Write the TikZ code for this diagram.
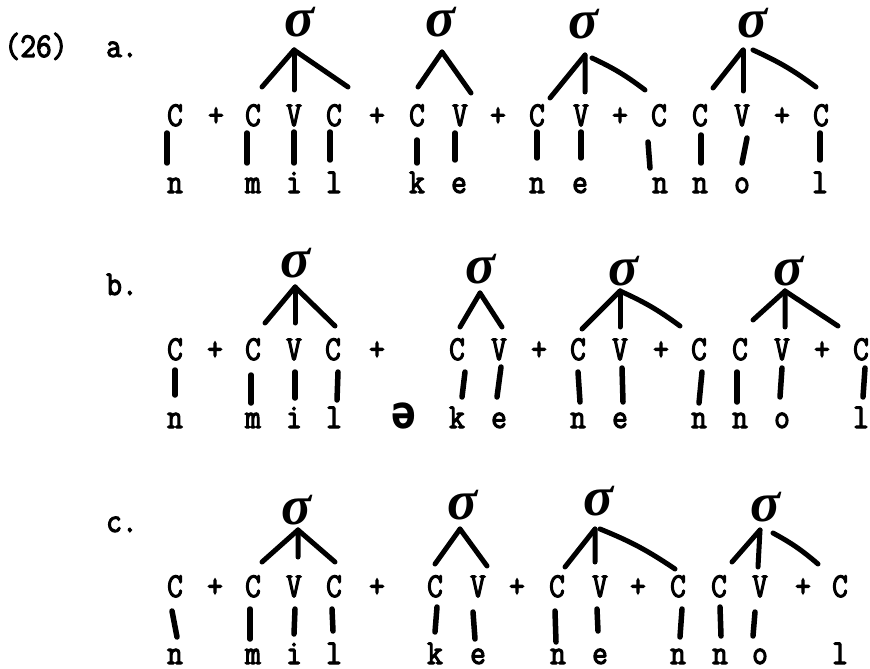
\documentclass[tikz,border=0pt]{standalone}
\usepackage{fontspec}
\setmonofont{Latin Modern Mono}[FakeBold=3, FakeStretch=0.88]
\newfontfamily\schwafont{DejaVu Sans}[FakeStretch=0.8]
\newfontfamily\sgfont{Liberation Serif}
\newcommand\stm[6]{\draw[stemline] ([xshift=#3bp,yshift=#4bp]#1.base) -- ([xshift=#5bp,yshift=#6bp]#2.base);}
\newcommand\brn[4]{\draw[branch] (#1) -- ([xshift=#3bp,yshift=#4bp]#2.base);}
\newcommand\brc[4]{\draw[branch] (#1) to[bend left=6] ([xshift=#3bp,yshift=#4bp]#2.base);}
\begin{document}
\begin{tikzpicture}[x=1bp,y=-1bp,
  lt/.style={font=\fontsize{35}{35}\selectfont\ttfamily, inner sep=0pt, anchor=base},
  sg/.style={font=\fontsize{56}{56}\selectfont\sgfont\bfseries\itshape, inner sep=0pt, anchor=base},
  stemline/.style={line width=5.5bp, line cap=round},
  branch/.style={line width=5bp, line cap=round, line join=round}]
\useasboundingbox (0,0) rectangle (870,669);
% labels
\node[lt] (n26) at (36,57) {(26)};
\node[lt] (la) at (122,57) {a.};
\node[lt] (lb) at (122,295) {b.};
\node[lt] (lc) at (122,532) {c.};
% ---------- row a ----------
\foreach \n/\x/\t in {1/175/C,2/216/+,3/253/C,4/294/V,5/334/C,6/377/+,7/417/C,8/460/V,9/498/+,10/537/C,11/581/V,12/620/+,13/659/C,14/700/C,15/742/V,16/782/+,17/821/C}
  \node[lt] (a\n) at (\x,126) {\t};
\foreach \n/\x/\t in {1/175/n,3/253/m,4/294/i,5/334/l,7/417/k,8/459/e,10/537/n,11/580/e,13/660/n,14/700/n,15/742/o,17/820/l}
  \node[lt] (ab\n) at (\x,193) {\t};
\node[sg] (sa1) at (300,37) {σ};
\node[sg] (sa2) at (441,37) {σ};
\node[sg] (sa3) at (584,39) {σ};
\node[sg] (sa4) at (753,38) {σ};
\coordinate (pa1) at (294,50);
\coordinate (pa2) at (442,52);
\coordinate (pa3) at (585,55);
\coordinate (pa3r) at (592,58);
\coordinate (pa4) at (743,50);
\coordinate (pa4r) at (753,50);
\brn{pa1}{a3}{9}{39}\brn{pa1}{a4}{0}{36}\brn{pa1}{a5}{14}{39}
\brn{pa2}{a7}{1}{39}\brn{pa2}{a8}{11}{33}
\brn{pa3}{a10}{13}{28}\brn{pa3}{a11}{4}{34}\brc{pa3r}{a13}{-14}{36}
\brn{pa4}{a14}{13}{38}\brn{pa4}{a15}{1}{35}\brc{pa4r}{a17}{-5}{39}
\stm{a1}{ab1}{-8}{-7}{-8}{30}
\stm{a3}{ab3}{-6}{-7}{-6}{30}
\stm{a4}{ab4}{0}{-6}{0}{30}
\stm{a5}{ab5}{-4}{-6}{-4}{33}
\stm{a7}{ab7}{0}{-14}{0}{30}
\stm{a8}{ab8}{-5}{-7}{-4}{33}
\stm{a10}{ab10}{0}{-6}{0}{35}
\stm{a11}{ab11}{0}{-6}{1}{35}
\stm{a13}{ab13}{-11}{-16}{-10}{25}
\stm{a14}{ab14}{1}{-9}{1}{30}
\stm{a15}{ab15}{5}{-12}{0}{30}
\stm{a17}{ab17}{-1}{-7}{0}{33}
% ---------- row b ----------
\foreach \n/\x/\t in {1/175/C,2/215/+,3/253/C,4/294/V,5/333/C,6/377/+,7/457/C,8/499/V,9/539/+,10/578/C,11/620/V,12/661/+,13/699/C,14/740/C,15/782/V,16/822/+,17/861/C}
  \node[lt] (b\n) at (\x,360) {\t};
\foreach \n/\x/\t in {1/175/n,3/253/m,4/294/i,5/334/l,7/457/k,8/499/e,10/578/n,11/620/e,13/699/n,14/740/n,15/782/o,17/861/l}
  \node[lt] (bb\n) at (\x,428) {\t};
\node[lt, font=\fontsize{46}{46}\selectfont\schwafont\bfseries] (schwa) at (404,428) {ə};
\node[sg] (sb1) at (296,277) {σ};
\node[sg] (sb2) at (481,283) {σ};
\node[sg] (sb3) at (624,285) {σ};
\node[sg] (sb4) at (789,285) {σ};
\coordinate (pb1) at (295,287);
\coordinate (pb2) at (480,293);
\coordinate (pb3) at (620,291);
\coordinate (pb4) at (785,291);
\brn{pb1}{b3}{12}{37}\brn{pb1}{b4}{1}{37}\brn{pb1}{b5}{2}{34}
\brn{pb2}{b7}{3}{33}\brn{pb2}{b8}{3}{33}
\brn{pb3}{b10}{4}{31}\brn{pb3}{b11}{0}{33}\brc{pb3}{b13}{-19}{34}
\brn{pb4}{b14}{13}{40}\brn{pb4}{b15}{3}{33}\brn{pb4}{b17}{-23}{34}
\stm{b1}{bb1}{0}{-10}{0}{33}
\stm{b3}{bb3}{-2}{-15}{-2}{25}
\stm{b4}{bb4}{1}{-12}{1}{30}
\stm{b5}{bb5}{5}{-12}{3}{28}
\stm{b7}{bb7}{8}{-12}{5}{31}
\stm{b8}{bb8}{2}{-7}{-2}{31}
\stm{b10}{bb10}{0}{-12}{2}{26}
\stm{b11}{bb11}{2}{-8}{3}{26}
\stm{b13}{bb13}{3}{-12}{0}{25}
\stm{b14}{bb14}{-3}{-12}{-3}{26}
\stm{b15}{bb15}{0}{-8}{-2}{31}
\stm{b17}{bb17}{4}{-8}{2}{31}
% ---------- row c ----------
\foreach \n/\x/\t in {1/175/C,2/215/+,3/253/C,4/294/V,5/334/C,6/377/+,7/435/C,8/478/V,9/517/+,10/557/C,11/600/V,12/638/+,13/678/C,14/719/C,15/760/V,16/803/+,17/840/C}
  \node[lt] (c\n) at (\x,597) {\t};
\foreach \n/\x/\t in {1/175/n,3/253/m,4/294/i,5/334/l,7/435/k,8/478/e,10/558/n,11/600/e,13/678/n,14/720/n,15/760/o,17/840/l}
  \node[lt] (cb\n) at (\x,664) {\t};
\node[sg] (sc1) at (297,524) {σ};
\node[sg] (sc2) at (463,519) {σ};
\node[sg] (sc3) at (599,515) {σ};
\node[sg] (sc4) at (766,521) {σ};
\coordinate (pc1) at (298,530);
\coordinate (pc2) at (460,529);
\coordinate (pc3) at (595,529);
\coordinate (pc3r) at (600,529);
\coordinate (pc4) at (760,530);
\coordinate (pc4r) at (773,533);
\brn{pc1}{c3}{9}{35}\brn{pc1}{c4}{4}{40}\brn{pc1}{c5}{1}{35}
\brn{pc2}{c7}{0}{33}\brn{pc2}{c8}{9}{31}
\brn{pc3}{c10}{8}{30}\brn{pc3}{c11}{-5}{35}\brc{pc3r}{c13}{-3}{28}
\brn{pc4}{c14}{13}{35}\brn{pc4}{c15}{-2}{30}\brc{pc4r}{c17}{-22}{33}
\stm{c1}{cb1}{-3}{-14}{2}{27}
\stm{c3}{cb3}{-3}{-12}{-3}{25}
\stm{c4}{cb4}{1}{-12}{0}{30}
\stm{c5}{cb5}{-2}{-12}{-1}{33}
\stm{c7}{cb7}{2}{-10}{0}{32}
\stm{c8}{cb8}{-5}{-15}{-3}{25}
\stm{c10}{cb10}{-2}{-14}{-2}{22}
\stm{c11}{cb11}{-3}{-12}{-2}{33}
\stm{c13}{cb13}{4}{-12}{2}{27}
\stm{c14}{cb14}{1}{-10}{1}{28}
\stm{c15}{cb15}{-5}{-15}{-7}{28}
\end{tikzpicture}
\end{document}
